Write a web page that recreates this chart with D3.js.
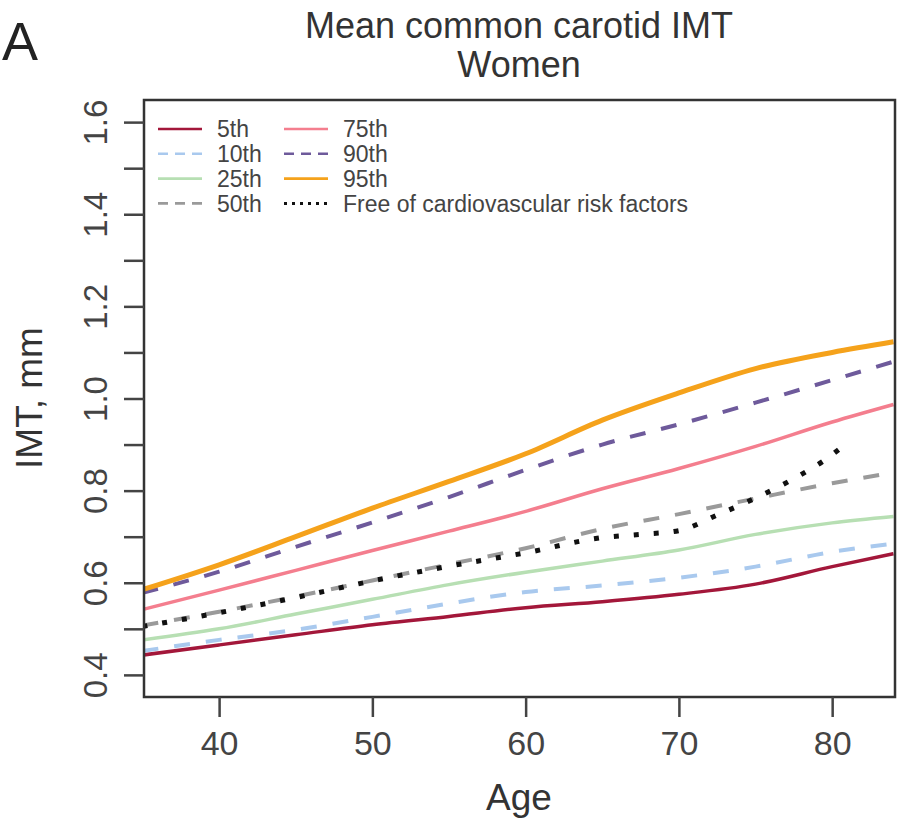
<!DOCTYPE html>
<html>
<head>
<meta charset="utf-8">
<script src="https://cdn.jsdelivr.net/npm/d3@7/dist/d3.min.js"></script>
<style>
  body { margin: 0; background: #fff; }
  text { font-family: "Liberation Sans", Arial, sans-serif; }
</style>
</head>
<body>
<div id="canvas"></div>
<script>
// Chart size
var w = 897;
var h = 823;
var box = {left: 144, right: 895, top: 100, bottom: 697};

// Data (IMT in mm by age)
var ages = [35, 40, 45, 50, 55, 60, 65, 70, 75, 80, 84];
var p5  = [0.443, 0.465, 0.487, 0.509, 0.527, 0.546, 0.559, 0.575, 0.597, 0.635, 0.663];
var p10 = [0.452, 0.476, 0.498, 0.526, 0.555, 0.580, 0.594, 0.611, 0.635, 0.667, 0.685];
var p25 = [0.476, 0.500, 0.532, 0.564, 0.596, 0.623, 0.647, 0.671, 0.705, 0.730, 0.744];
var p50 = [0.507, 0.537, 0.570, 0.605, 0.640, 0.675, 0.717, 0.749, 0.783, 0.816, 0.839];
var p75 = [0.542, 0.584, 0.627, 0.670, 0.712, 0.755, 0.804, 0.848, 0.896, 0.949, 0.987];
var p90 = [0.578, 0.624, 0.678, 0.731, 0.786, 0.845, 0.900, 0.944, 0.991, 1.040, 1.080];
var p95 = [0.585, 0.639, 0.700, 0.762, 0.820, 0.880, 0.953, 1.012, 1.065, 1.100, 1.123];

// "Free of cardiovascular risk factors" stops around 80
var freeAges = [35, 40, 45, 50, 55, 60, 65, 67.5, 70, 72.5, 75, 77.5, 80, 80.5];
var freeVals = [0.505, 0.535, 0.568, 0.604, 0.636, 0.665, 0.698, 0.705, 0.713, 0.747, 0.784, 0.826, 0.878, 0.891];

var seriesNames = ["5th", "10th", "25th", "50th", "75th", "90th", "95th", "Free of cardiovascular risk factors"];

var xTicks = [40, 50, 60, 70, 80];
var yTicks = [0.4, 0.5, 0.6, 0.7, 0.8, 0.9, 1.0, 1.1, 1.2, 1.3, 1.4, 1.5, 1.6];
var yTickLabels = [0.4, 0.6, 0.8, 1.0, 1.2, 1.4, 1.6];

// styles, same order as seriesNames
var colors = ["#a3173a", "#a9c9ee", "#b7dfb3", "#9a9a9a", "#f47e8e", "#6e5a9b", "#f5a21b", "#111111"];
var widths = [3.5, 4, 3.5, 4, 3.5, 4, 5, 5];
var dashes = [null, "16,16", null, "16,16", null, "16,16", null, "5,15"];
var legendDashes = [null, "10,7", null, "10,7", null, "10,7", null, "3,5"];

var series = [p5, p10, p25, p50, p75, p90, p95].map(function(vals, i) {
    return {name: seriesNames[i], points: ages.map(function(a, j) { return [a, vals[j]]; })};
});
series.push({name: seriesNames[7], points: freeAges.map(function(a, j) { return [a, freeVals[j]]; })});

var svg = d3.select("#canvas")
    .append("svg")
    .attr("width", w)
    .attr("height", h);

var x_scale = d3.scaleLinear()
    .domain([35.1, 84.1])
    .range([box.left, box.right]);

var y_scale = d3.scaleLinear()
    .domain([0.352, 1.648])
    .range([box.bottom, box.top]);

svg.append("clipPath").attr("id", "plotclip")
    .append("rect")
    .attr("x", box.left).attr("y", box.top)
    .attr("width", box.right - box.left).attr("height", box.bottom - box.top);

// Lines
var line = d3.line()
    .x(d => x_scale(d[0]))
    .y(d => y_scale(d[1]))
    .curve(d3.curveMonotoneX);

svg.append("g")
    .attr("clip-path", "url(#plotclip)")
    .selectAll("path")
    .data(series)
    .join("path")
    .attr("d", d => line(d.points))
    .attr("fill", "none")
    .attr("stroke", (d, i) => colors[i])
    .attr("stroke-width", (d, i) => widths[i])
    .attr("stroke-dasharray", (d, i) => dashes[i]);

// Box
svg.append("rect")
    .attr("x", box.left).attr("y", box.top)
    .attr("width", box.right - box.left).attr("height", box.bottom - box.top)
    .attr("fill", "none")
    .attr("stroke", "#333")
    .attr("stroke-width", 2.5);

// X axis
var xAxis = svg.append("g")
    .attr("transform", `translate(0,${box.bottom})`)
    .call(d3.axisBottom(x_scale).tickValues(xTicks).tickSize(20).tickPadding(14));
xAxis.select(".domain").remove();
xAxis.selectAll(".tick line").attr("stroke", "#444").attr("stroke-width", 2.5);
xAxis.selectAll(".tick text")
    .attr("fill", "#444")
    .style("font-size", "34px")
    .style("font-family", "'Liberation Sans', Arial, sans-serif");

// Y axis: ticks every 0.1, labels on every other one, written along the axis
var yAxis = svg.append("g")
    .attr("transform", `translate(${box.left},0)`)
    .call(d3.axisLeft(y_scale).tickValues(yTicks).tickSize(20)
        .tickFormat(d => yTickLabels.some(v => Math.abs(v - d) < 1e-9) ? d3.format(".1f")(d) : ""));
yAxis.select(".domain").remove();
yAxis.selectAll(".tick line").attr("stroke", "#444").attr("stroke-width", 2.5);
yAxis.selectAll(".tick text")
    .attr("fill", "#444")
    .attr("x", null).attr("dy", null)
    .attr("text-anchor", "middle")
    .attr("transform", "translate(-37,0) rotate(-90)")
    .style("font-size", "33px")
    .style("font-family", "'Liberation Sans', Arial, sans-serif");

// Titles
svg.append("text")
    .attr("x", 519).attr("y", 38)
    .attr("text-anchor", "middle")
    .attr("fill", "#333")
    .style("font-size", "36px")
    .text("Mean common carotid IMT");

svg.append("text")
    .attr("x", 519).attr("y", 77)
    .attr("text-anchor", "middle")
    .attr("fill", "#333")
    .style("font-size", "36px")
    .text("Women");

svg.append("text")
    .attr("x", 2).attr("y", 60)
    .attr("fill", "#222")
    .style("font-size", "54px")
    .text("A");

svg.append("text")
    .attr("x", 519).attr("y", 810)
    .attr("text-anchor", "middle")
    .attr("fill", "#333")
    .style("font-size", "37px")
    .text("Age");

svg.append("text")
    .attr("transform", "translate(42,398) rotate(-90)")
    .attr("text-anchor", "middle")
    .attr("fill", "#333")
    .style("font-size", "37px")
    .text("IMT, mm");

// Legend, two columns of four
var legend = svg.append("g");
var rows = legend.selectAll("g")
    .data(series)
    .join("g")
    .attr("transform", (d, i) => `translate(${i < 4 ? 158 : 284},${129 + (i % 4) * 24.8})`);

rows.append("line")
    .attr("x1", 0).attr("x2", 44)
    .attr("stroke", (d, i) => colors[i])
    .attr("stroke-width", (d, i) => i === 7 ? 3 : 2.6)
    .attr("stroke-dasharray", (d, i) => legendDashes[i]);

rows.append("text")
    .attr("x", 59)
    .attr("dy", "0.36em")
    .attr("fill", "#444")
    .style("font-size", "23px")
    .text(d => d.name);
</script>
</body>
</html>
